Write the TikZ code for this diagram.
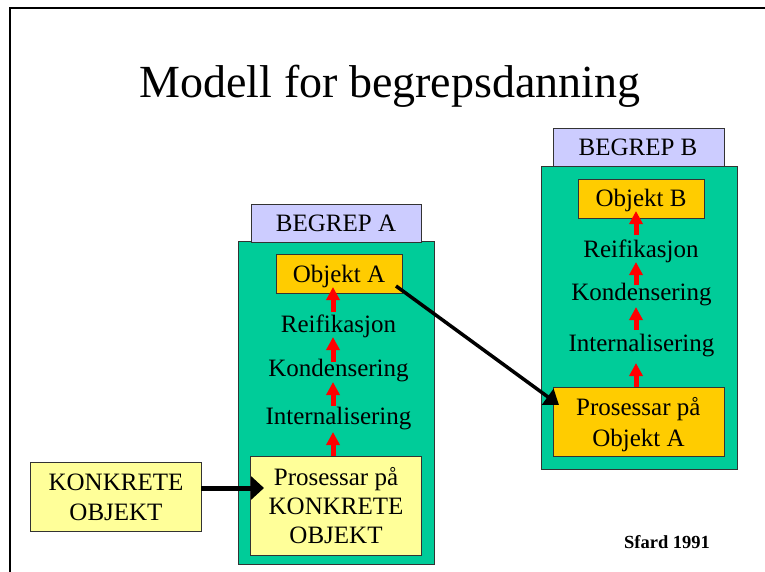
\documentclass[tikz,border=0pt]{standalone}
\usepackage{fontspec}
\setmainfont{Liberation Serif}
\usetikzlibrary{arrows.meta}
\definecolor{grn}{HTML}{00CC99}
\definecolor{lav}{HTML}{CCCCFF}
\definecolor{org}{HTML}{FFCC00}
\definecolor{lyel}{HTML}{FFFF99}
\definecolor{edge}{HTML}{333333}
\begin{document}
\begin{tikzpicture}[x=1pt,y=-1pt,
  panel/.style={draw=edge, line width=0.9pt, fill=grn, inner sep=0pt},
  tag/.style={draw=edge, line width=0.9pt, fill=lav, inner sep=0pt},
  obj/.style={draw=edge, line width=0.9pt, fill=org, inner sep=0pt},
  proc/.style={draw=edge, line width=0.9pt, fill=lyel, inner sep=0pt},
  txt/.style={anchor=base, inner sep=0pt, font=\fontsize{25}{30}\selectfont},
  redarrow/.style={draw=red, line width=5pt, -{Triangle[length=13pt,width=13pt]}},
  bigarrow/.style={draw=black, line width=5pt, -{Triangle[length=13pt,width=23pt]}},
  diagarrow/.style={draw=black, line width=3.5pt, -{Triangle[length=14pt,width=19pt]}}]
\useasboundingbox (0,0) rectangle (765,572);
\fill[white] (0,0) rectangle (765,572);
% frame
\draw[line width=1.6pt] (10,572) -- (10,8) -- (765,8);
% title
\node[anchor=base, inner sep=0pt, font=\fontsize{46}{55}\selectfont] (title) at (390,98) {Modell for begrepsdanning};

% ---------- Begrep A ----------
\node[panel, minimum width=196pt, minimum height=323pt] (panelA) at (336,402.5) {};
\node[tag, minimum width=170.7pt, minimum height=38.5pt] (tagA) at (336.3,223.2) {};
\node[txt] (tagAt) at (336,231.5) {BEGREP A};
\node[obj, minimum width=126.7pt, minimum height=39pt] (objA) at (339.3,273.5) {};
\node[txt] (objAt) at (339,282.7) {Objekt A};
\node[txt] (reiA) at (338.5,332) {Reifikasjon};
\node[txt] (konA) at (338.5,376.5) {Kondensering};
\node[txt] (intA) at (338.5,424.5) {Internalisering};
\node[proc, minimum width=171pt, minimum height=99pt] (procA) at (336.2,505.5) {};
\node[txt] (procA1) at (336,485) {Prosessar på};
\node[txt] (procA2) at (336,514.5) {KONKRETE};
\node[txt] (procA3) at (336,543.5) {OBJEKT};

\coordinate (a1s) at (333,312); \coordinate (a1e) at (333,287);
\coordinate (a2s) at (333,362); \coordinate (a2e) at (333,337);
\coordinate (a3s) at (333,405.5); \coordinate (a3e) at (333,382);
\coordinate (a4s) at (333,456); \coordinate (a4e) at (333,432);
\draw[redarrow] (a1s) -- (a1e);
\draw[redarrow] (a2s) -- (a2e);
\draw[redarrow] (a3s) -- (a3e);
\draw[redarrow] (a4s) -- (a4e);

% ---------- Konkrete objekt ----------
\node[proc, minimum width=170.3pt, minimum height=68.3pt] (konk) at (115.8,496.8) {};
\node[txt] (konk1) at (116,490.5) {KONKRETE};
\node[txt] (konk2) at (116,520) {OBJEKT};
\coordinate (k1s) at (201,488); \coordinate (k1e) at (264,488);
\draw[bigarrow] (k1s) -- (k1e);

% ---------- Begrep B ----------
\node[panel, minimum width=196pt, minimum height=303pt] (panelB) at (639,317.5) {};
\node[tag, minimum width=171pt, minimum height=37.7pt] (tagB) at (638.5,147.8) {};
\node[txt] (tagBt) at (638,156) {BEGREP B};
\node[obj, minimum width=126pt, minimum height=39pt] (objB) at (641.7,198.5) {};
\node[txt] (objBt) at (641,207) {Objekt B};
\node[txt] (reiB) at (641,257.5) {Reifikasjon};
\node[txt] (konB) at (641.5,300.5) {Kondensering};
\node[txt] (intB) at (641.5,351.5) {Internalisering};
\node[obj, minimum width=171pt, minimum height=69pt] (procB) at (638.5,421.5) {};
\node[txt] (procB1) at (638.3,415) {Prosessar på};
\node[txt] (procB2) at (638.5,446) {Objekt A};

\coordinate (b1s) at (636,235); \coordinate (b1e) at (636,211);
\coordinate (b2s) at (636,285); \coordinate (b2e) at (636,262);
\coordinate (b3s) at (636,330); \coordinate (b3e) at (636,307);
\coordinate (b4s) at (636,387); \coordinate (b4e) at (636,363);
\draw[redarrow] (b1s) -- (b1e);
\draw[redarrow] (b2s) -- (b2e);
\draw[redarrow] (b3s) -- (b3e);
\draw[redarrow] (b4s) -- (b4e);

% diagonal connector
\coordinate (dS) at (396,286); \coordinate (dE) at (559,405);
\draw[diagarrow] (dS) -- (dE);

% credit
\node[anchor=base, inner sep=0pt, font=\bfseries\fontsize{18.5}{22}\selectfont] (credit) at (667,548) {Sfard 1991};
\end{tikzpicture}
\end{document}
